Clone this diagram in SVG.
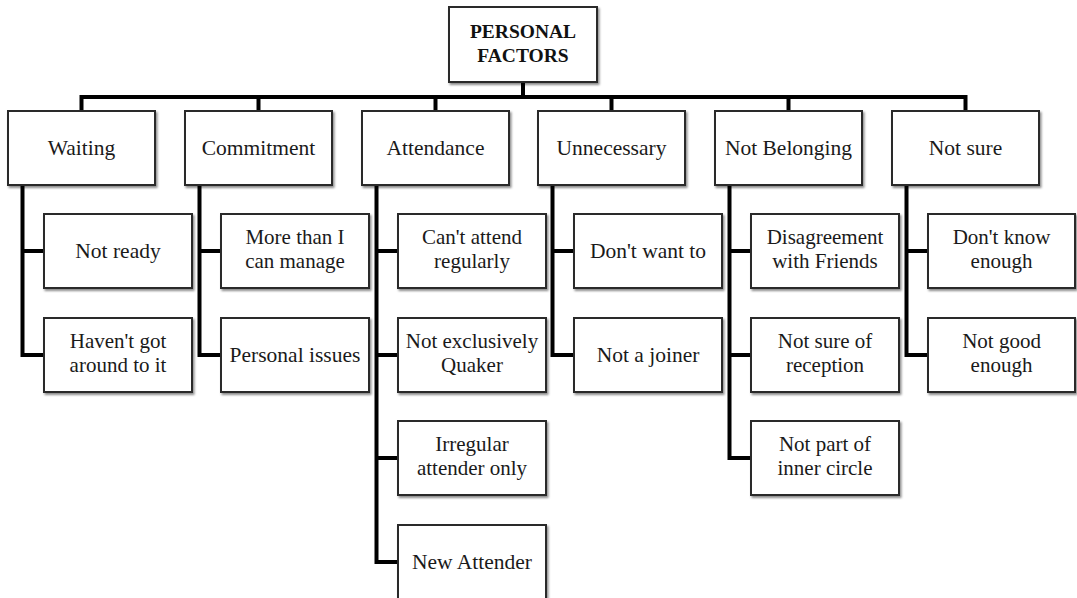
<svg xmlns="http://www.w3.org/2000/svg" width="1077" height="598" viewBox="0 0 1077 598">
<style>
.box{fill:#fff;stroke:#2a2a2a;stroke-width:2;filter:url(#sh)}
.t{font-family:"Liberation Serif","Times New Roman",serif;font-size:21.5px;fill:#1a1a1a;text-anchor:middle}
.m{font-size:21px}
.r{font-family:"Liberation Serif","Times New Roman",serif;font-size:19.5px;font-weight:bold;fill:#111;text-anchor:middle}
.c{fill:none;stroke:#000;stroke-width:4;stroke-linejoin:miter;stroke-linecap:butt}
</style>
<defs>
<filter id="sh" x="-10%" y="-10%" width="125%" height="130%">
<feDropShadow dx="1.5" dy="2" stdDeviation="1.2" flood-color="#000" flood-opacity="0.45"/>
</filter>
</defs>
<rect width="1077" height="598" fill="#fff"/>
<g id="connectors" class="c">
<path d="M523,82 V97"/>
<path d="M81.5,112 V97 H965.5 V112"/>
<path d="M258.5,97 V112"/>
<path d="M435.5,97 V112"/>
<path d="M611.5,97 V112"/>
<path d="M788.5,97 V112"/>
<path d="M22.5,185 V355 H44"/>
<path d="M22.5,251 H44"/>
<path d="M199.5,185 V355 H221"/>
<path d="M199.5,251 H221"/>
<path d="M376.5,185 V562 H398"/>
<path d="M376.5,251 H398"/>
<path d="M376.5,355 H398"/>
<path d="M376.5,458 H398"/>
<path d="M552.5,185 V355 H574"/>
<path d="M552.5,251 H574"/>
<path d="M729.5,185 V458 H751"/>
<path d="M729.5,251 H751"/>
<path d="M729.5,355 H751"/>
<path d="M906.5,185 V355 H928"/>
<path d="M906.5,251 H928"/>
</g>
<g id="root"><rect class="box" x="449" y="7" width="148" height="75"/><text class="r" x="523" y="37.5">PERSONAL</text><text class="r" x="523" y="62">FACTORS</text></g>
<g id="waiting"><rect class="box" x="8" y="111" width="147" height="74"/><text class="t" x="81.5" y="155">Waiting</text></g>
<g id="commitment"><rect class="box" x="185" y="111" width="147" height="74"/><text class="t" x="258.5" y="155">Commitment</text></g>
<g id="attendance"><rect class="box" x="362" y="111" width="147" height="74"/><text class="t" x="435.5" y="155">Attendance</text></g>
<g id="unnecessary"><rect class="box" x="538" y="111" width="147" height="74"/><text class="t" x="611.5" y="155">Unnecessary</text></g>
<g id="not-belonging"><rect class="box" x="715" y="111" width="147" height="74"/><text class="t" x="788.5" y="155">Not Belonging</text></g>
<g id="not-sure"><rect class="box" x="892" y="111" width="147" height="74"/><text class="t" x="965.5" y="155">Not sure</text></g>

<g id="not-ready"><rect class="box" x="44" y="214" width="148" height="74"/><text class="t" x="118" y="258">Not ready</text></g>
<g id="havent-got"><rect class="box" x="44" y="318" width="148" height="74"/><text class="t m" x="118" y="348">Haven't got</text><text class="t m" x="118" y="372">around to it</text></g>

<g id="more-than"><rect class="box" x="221" y="214" width="148" height="74"/><text class="t m" x="295" y="244">More than I</text><text class="t m" x="295" y="268">can manage</text></g>
<g id="personal-issues"><rect class="box" x="221" y="318" width="148" height="74"/><text class="t" x="295" y="362">Personal issues</text></g>

<g id="cant-attend"><rect class="box" x="398" y="214" width="148" height="74"/><text class="t m" x="472" y="244">Can't attend</text><text class="t m" x="472" y="268">regularly</text></g>
<g id="not-exclusively"><rect class="box" x="398" y="318" width="148" height="74"/><text class="t m" x="472" y="348">Not exclusively</text><text class="t m" x="472" y="372">Quaker</text></g>
<g id="irregular"><rect class="box" x="398" y="421" width="148" height="74"/><text class="t m" x="472" y="451">Irregular</text><text class="t m" x="472" y="475">attender only</text></g>
<g id="new-attender"><rect class="box" x="398" y="525" width="148" height="74"/><text class="t" x="472" y="569">New Attender</text></g>

<g id="dont-want"><rect class="box" x="574" y="214" width="148" height="74"/><text class="t" x="648" y="258">Don't want to</text></g>
<g id="not-joiner"><rect class="box" x="574" y="318" width="148" height="74"/><text class="t" x="648" y="362">Not a joiner</text></g>

<g id="disagreement"><rect class="box" x="751" y="214" width="148" height="74"/><text class="t m" x="825" y="244">Disagreement</text><text class="t m" x="825" y="268">with Friends</text></g>
<g id="not-sure-reception"><rect class="box" x="751" y="318" width="148" height="74"/><text class="t m" x="825" y="348">Not sure of</text><text class="t m" x="825" y="372">reception</text></g>
<g id="inner-circle"><rect class="box" x="751" y="421" width="148" height="74"/><text class="t m" x="825" y="451">Not part of</text><text class="t m" x="825" y="475">inner circle</text></g>

<g id="dont-know"><rect class="box" x="928" y="214" width="147" height="74"/><text class="t m" x="1001.5" y="244">Don't know</text><text class="t m" x="1001.5" y="268">enough</text></g>
<g id="not-good"><rect class="box" x="928" y="318" width="147" height="74"/><text class="t m" x="1001.5" y="348">Not good</text><text class="t m" x="1001.5" y="372">enough</text></g>
</svg>
